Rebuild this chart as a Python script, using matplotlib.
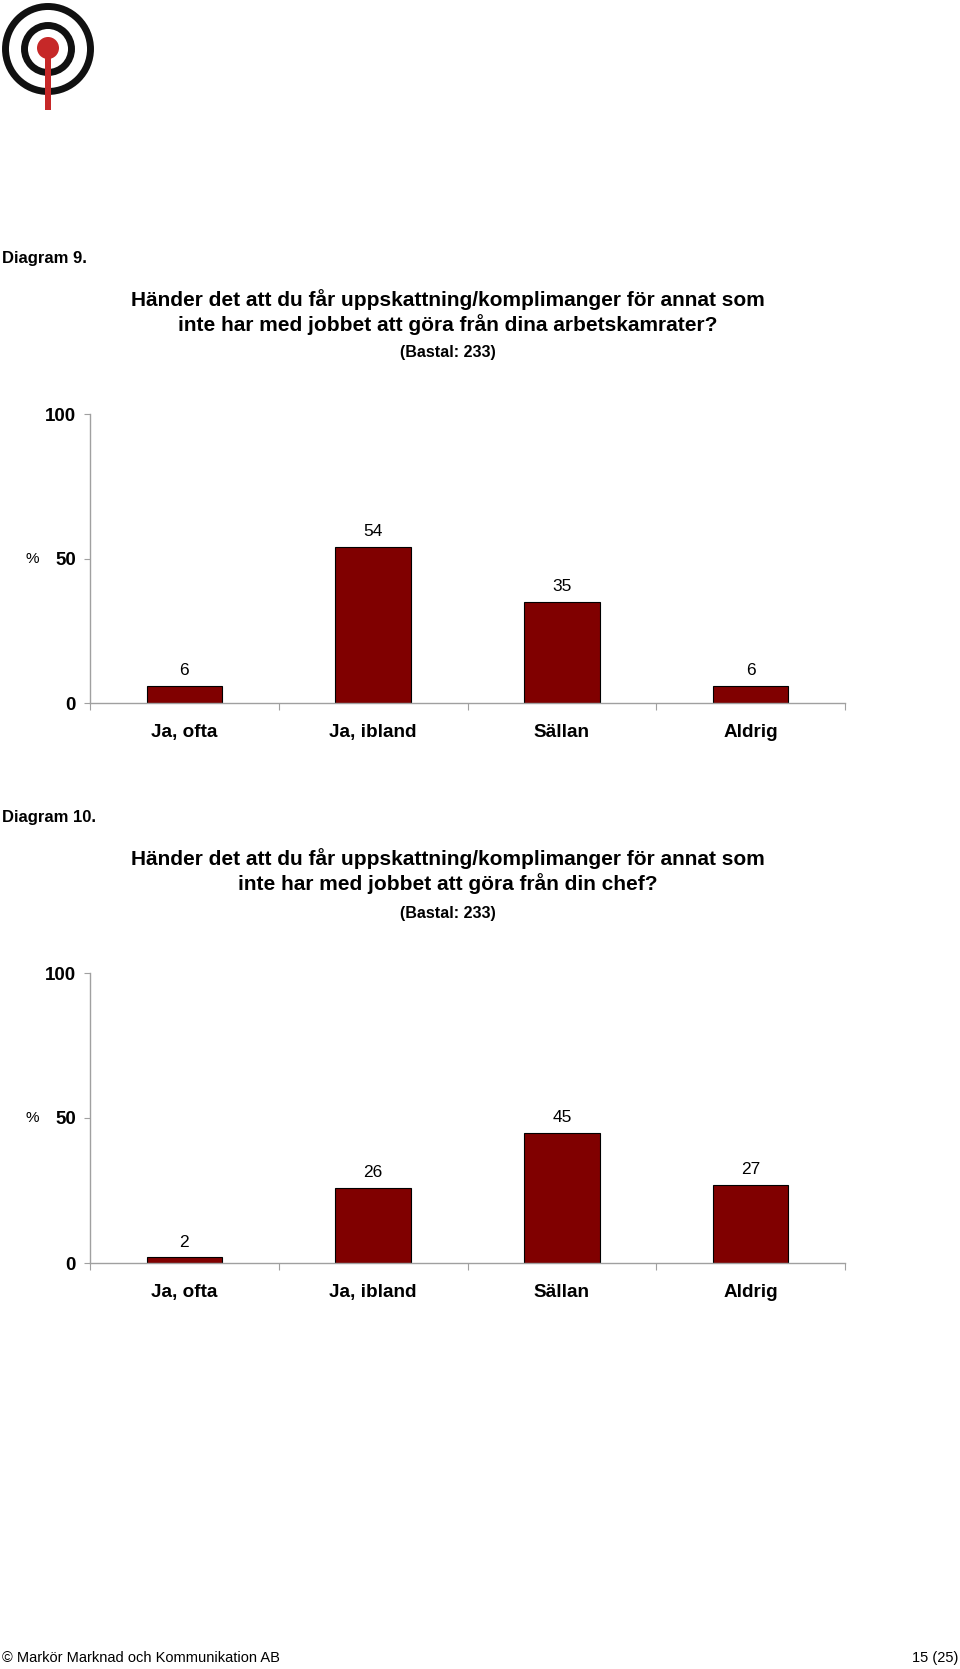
import matplotlib
matplotlib.use('Agg')
import matplotlib.pyplot as plt
from matplotlib.patches import Circle, Rectangle

plt.rcParams['font.family'] = ['Liberation Sans', 'DejaVu Sans']

# Data
kategorier = ['Ja, ofta', 'Ja, ibland', 'Sällan', 'Aldrig']
diagram9 = [6, 54, 35, 6]
diagram10 = [2, 26, 45, 27]

titel9 = 'Händer det att du får uppskattning/komplimanger för annat som\ninte har med jobbet att göra från dina arbetskamrater?'
titel10 = 'Händer det att du får uppskattning/komplimanger för annat som\ninte har med jobbet att göra från din chef?'
bastal = '(Bastal: 233)'

W, H = 960, 1669
fig = plt.figure(figsize=(W / 100, H / 100), dpi=100)
fig.patch.set_facecolor('white')


def fy(py):
    # pixel y (from top) -> figure fraction
    return 1 - py / H


# Logo
lax = fig.add_axes([0, fy(120), 120 / W, 120 / H])
lax.set_xlim(0, 120)
lax.set_ylim(120, 0)
lax.axis('off')
lax.add_patch(Circle((48, 49), 42.5, fill=False, lw=5.0, ec='#111111'))
lax.add_patch(Circle((48, 49), 23.5, fill=False, lw=5.0, ec='#111111'))
lax.add_patch(Rectangle((45, 49), 6, 61, color='#c62828', lw=0))
lax.add_patch(Circle((48, 48), 11, color='#c62828', lw=0))


def rita(ax, varden, diag_text, titel, y_diag, y_titel, y_bas):
    x = [i + 0.5 for i in range(len(varden))]
    bars = ax.bar(x, varden, width=0.4, color='#800000', edgecolor='black', linewidth=0.8)
    for b, v in zip(bars, varden):
        ax.annotate(f'{v}', (b.get_x() + b.get_width() / 2, b.get_height()),
                    xytext=(0, 5.5), textcoords='offset points',
                    ha='center', va='bottom', fontsize=12.5)
    ax.set_xlim(0, 4)
    ax.set_ylim(0, 100)
    ax.set_yticks([0, 50, 100])
    ax.set_yticklabels(['0', '50', '100'], fontsize=13.5, fontweight='bold')
    ax.set_xticks([0, 1, 2, 3, 4])
    ax.set_xticklabels([])
    ax.set_xticks(x, minor=True)
    ax.set_xticklabels(kategorier, minor=True, fontsize=13.6, fontweight='bold')
    ax.tick_params(axis='x', which='minor', length=0, pad=15)
    ax.tick_params(axis='x', which='major', length=5, color='#a0a0a0', direction='out')
    ax.tick_params(axis='y', length=4, color='#a0a0a0', pad=6)
    for s in ['top', 'right']:
        ax.spines[s].set_visible(False)
    for s in ['left', 'bottom']:
        ax.spines[s].set_color('#a0a0a0')
        ax.spines[s].set_linewidth(1.0)
    pos = ax.get_position()
    fig.text(32 / W, pos.y0 + pos.height / 2, '%', fontsize=11, ha='center', va='center')
    fig.text(2 / W, fy(y_diag), diag_text, fontsize=12, fontweight='bold', ha='left', va='center')
    fig.text(448 / W, fy(y_titel), titel, fontsize=15, fontweight='bold', ha='center', va='center',
             linespacing=1.22)
    fig.text(448 / W, fy(y_bas), bastal, fontsize=11.6, fontweight='bold', ha='center', va='center')


ax1 = fig.add_axes([90 / W, fy(703), 755 / W, (703 - 414) / H])
rita(ax1, diagram9, 'Diagram 9.', titel9, 258, 312, 352)

ax2 = fig.add_axes([90 / W, fy(1263), 755 / W, (1263 - 973) / H])
rita(ax2, diagram10, 'Diagram 10.', titel10, 817, 871, 913)

# Footer
fig.text(2 / W, fy(1658), '© Markör Marknad och Kommunikation AB', fontsize=10.5, ha='left', va='center')
fig.text(958 / W, fy(1658), '15 (25)', fontsize=10.5, ha='right', va='center')

plt.savefig('out.png', dpi=100, facecolor='white')
